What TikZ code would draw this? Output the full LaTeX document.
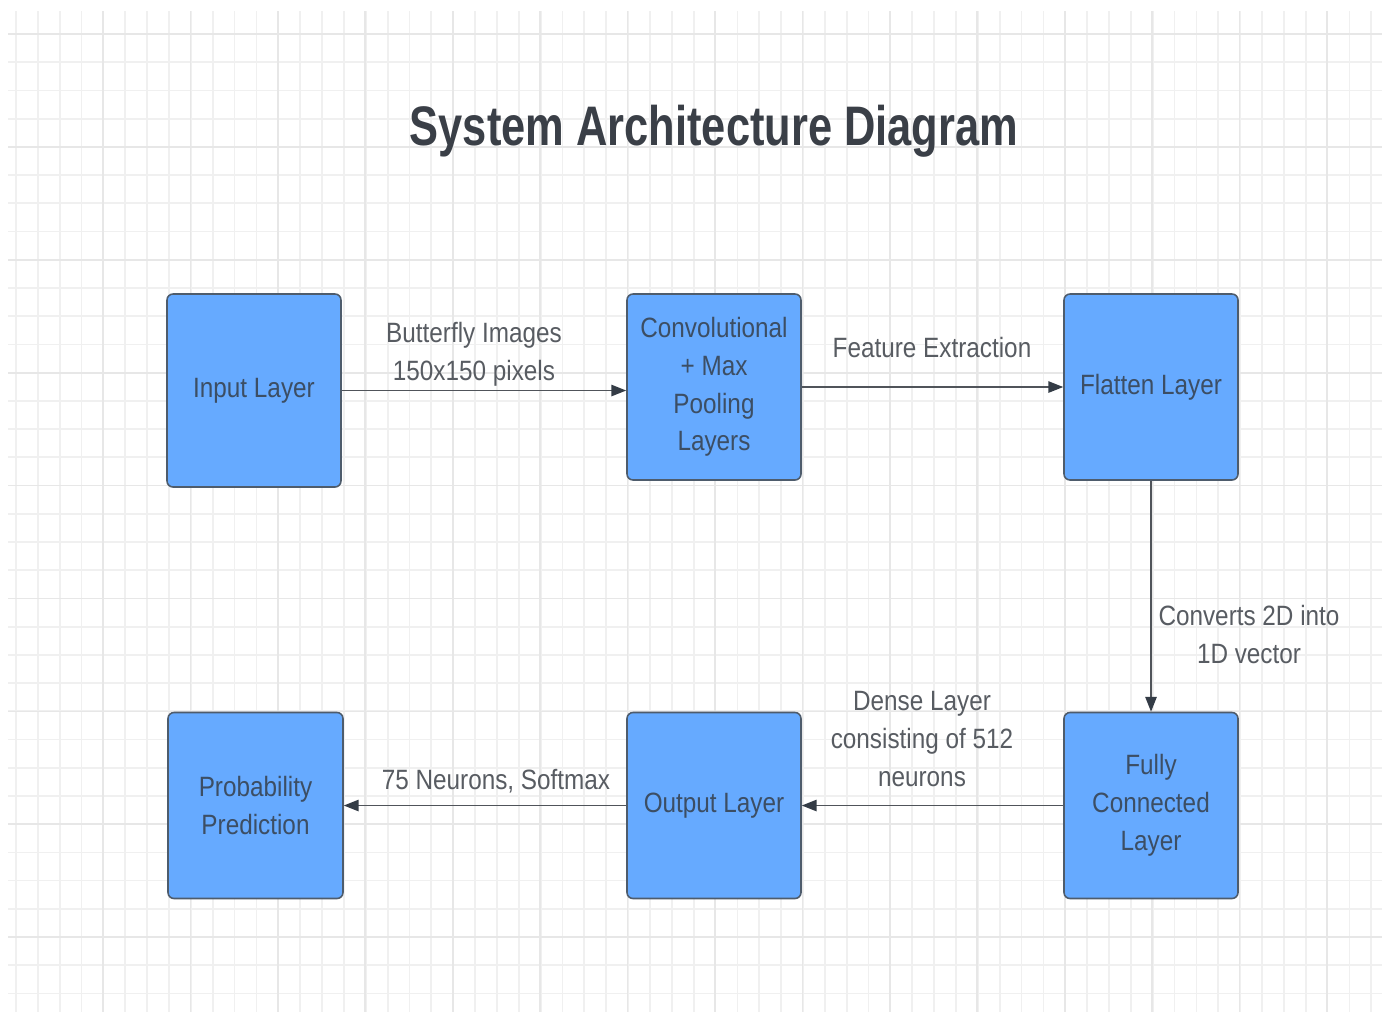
\documentclass[tikz,border=0pt]{standalone}
\usepackage{fontspec}
\setmainfont{Liberation Sans}[FakeStretch=0.87]
\newfontfamily\titlefont{Liberation Sans}[FakeStretch=0.78]
\usepackage{tikz}
\usetikzlibrary{arrows.meta}
\definecolor{boxblue}{RGB}{102,170,255}
\definecolor{boxedge}{RGB}{78,92,108}
\definecolor{boxtext}{RGB}{60,78,100}
\definecolor{lbltext}{RGB}{88,92,98}
\definecolor{titletext}{RGB}{58,63,71}
\definecolor{flowline}{RGB}{80,84,90}
\definecolor{tipdark}{RGB}{52,60,70}
\definecolor{gridminor}{RGB}{240,240,240}
\definecolor{gridmajor}{RGB}{231,231,231}

\begin{document}
\begin{tikzpicture}[x=0.02cm, y=-0.02cm,
		minorgrid/.style = {draw=gridminor, line width=1pt},
		majorgrid/.style = {draw=gridmajor, line width=1pt},
		layer/.style = {draw=boxedge, fill=boxblue, rounded corners=3.4pt, line width=0.9pt, minimum width=3.48cm, minimum height=3.72cm, align=center, text=boxtext, font=\fontsize{15.9}{21.5}\selectfont},
		lbl/.style = {align=center, inner sep=0pt, text=lbltext, font=\fontsize{15.9}{21.5}\selectfont},
		flow/.style = {draw=flowline, line width=0.9pt, -{Triangle[length=8.5pt, width=6.5pt, color=tipdark]}}, ]
	\fill[white] (0,0) rectangle (1382,1012);
	\useasboundingbox (0,0) rectangle (1382,1012);
	\foreach \i in {0,...,62}
		\draw[minorgrid] ({16+21.86*\i},11) -- ({16+21.86*\i},1012);
	\foreach \j in {0,...,34}
		\draw[minorgrid] (8,{34+28.22*\j}) -- (1382,{34+28.22*\j});
	\foreach \i in {0,...,14}
		\draw[majorgrid] ({103+87.43*\i},11) -- ({103+87.43*\i},1012);
	\foreach \j in {0,...,8}
		\draw[majorgrid] (8,{34+112.9*\j}) -- (1382,{34+112.9*\j});

	\node [anchor=base, text=titletext, font=\titlefont\bfseries\fontsize{31.7}{38}\selectfont] (title) at (714,145) {System Architecture Diagram};

	\node [layer, minimum height=3.86cm] (in) at (254,390.5) {Input Layer};
	\node [layer] (conv) at (714,387) {Convolutional\\+ Max\\Pooling\\Layers};
	\node [layer] (flat) at (1151,387) {Flatten Layer};
	\node [layer] (fc) at (1151,805.5) {Fully\\Connected\\Layer};
	\node [layer] (out) at (714,805.5) {Output Layer};
	\node [layer, minimum width=3.5cm] (prob) at (255.5,805.5) {Probability\\Prediction};

	\draw [flow] (in.east) -- (in.east -| conv.west);
	\draw [flow] (conv) -- (flat);
	\draw [flow] (flat) -- (fc);
	\draw [flow] (fc) -- (out);
	\draw [flow] (out) -- (prob);

	\node [lbl, anchor=base] (lin) at (474,380) {Butterfly Images\\150x150 pixels};
	\node [lbl, anchor=base] (lconv) at (932,357) {Feature Extraction};
	\node [lbl, anchor=base] (lflat) at (1249,663) {Converts 2D into\\1D vector};
	\node [lbl, anchor=base] (lfc) at (922,786) {Dense Layer\\consisting of 512\\neurons};
	\node [lbl, anchor=base] (lout) at (496,789) {75 Neurons, Softmax};
\end{tikzpicture}
\end{document}
